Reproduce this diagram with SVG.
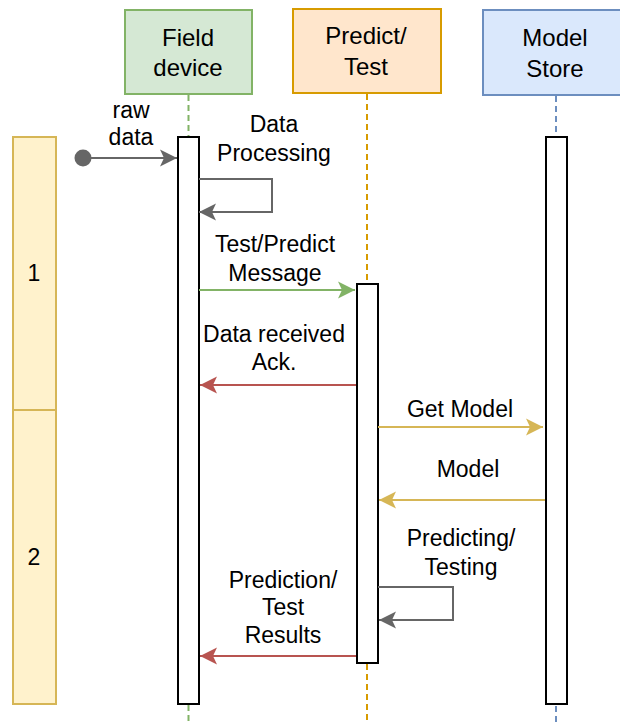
<svg xmlns="http://www.w3.org/2000/svg" width="620" height="724" viewBox="0 0 620 724">
  <style>
    text { font-family: "Liberation Sans", Arial, sans-serif; fill: #000000; text-anchor: middle; }
    .hdr { font-size: 24px; }
    .lbl { font-size: 23px; }
    .life { fill: none; stroke-width: 2; stroke-dasharray: 6 4; }
    .act { fill: #ffffff; stroke: #000000; stroke-width: 2; }
    .phase { fill: #fff2cc; stroke: #d6b656; stroke-width: 2; }
    .msg { fill: none; stroke-width: 2; }
  </style>
  <defs>
    <marker id="arrGray" markerUnits="userSpaceOnUse" markerWidth="20" markerHeight="20" viewBox="-18 -10 20 20" refX="0" refY="0" orient="auto">
      <path d="M0,0 L-17,-8.5 L-13,0 L-17,8.5 Z" fill="#666666"/>
    </marker>
    <marker id="arrGreen" markerUnits="userSpaceOnUse" markerWidth="20" markerHeight="20" viewBox="-18 -10 20 20" refX="0" refY="0" orient="auto">
      <path d="M0,0 L-17,-8.5 L-13,0 L-17,8.5 Z" fill="#82b366"/>
    </marker>
    <marker id="arrRed" markerUnits="userSpaceOnUse" markerWidth="20" markerHeight="20" viewBox="-18 -10 20 20" refX="0" refY="0" orient="auto">
      <path d="M0,0 L-17,-8.5 L-13,0 L-17,8.5 Z" fill="#b85450"/>
    </marker>
    <marker id="arrGold" markerUnits="userSpaceOnUse" markerWidth="20" markerHeight="20" viewBox="-18 -10 20 20" refX="0" refY="0" orient="auto">
      <path d="M0,0 L-17,-8.5 L-13,0 L-17,8.5 Z" fill="#d6b656"/>
    </marker>
  </defs>

  <rect width="620" height="724" fill="#ffffff"/>

  <!-- phase bars -->
  <g id="phase1">
    <rect class="phase" x="13" y="137" width="43" height="273"/>
    <text class="lbl" x="34" y="281">1</text>
  </g>
  <g id="phase2">
    <rect class="phase" x="13" y="410" width="43" height="294"/>
    <text class="lbl" x="34" y="565">2</text>
  </g>

  <!-- participants with lifelines and activations -->
  <g id="field-device">
    <line class="life" x1="188.5" y1="95" x2="188.5" y2="724" stroke="#82b366"/>
    <rect x="125" y="10" width="127" height="84" fill="#d5e8d4" stroke="#82b366" stroke-width="2"/>
    <text class="hdr" x="188" y="46">Field</text>
    <text class="hdr" x="188" y="76">device</text>
    <rect class="act" x="178" y="137" width="21" height="567"/>
  </g>
  <g id="predict-test">
    <line class="life" x1="367" y1="94" x2="367" y2="724" stroke="#d79b00"/>
    <rect x="293" y="9" width="148" height="84" fill="#ffe6cc" stroke="#d79b00" stroke-width="2"/>
    <text class="hdr" x="366" y="44">Predict/</text>
    <text class="hdr" x="366" y="75">Test</text>
    <rect class="act" x="357" y="284" width="21" height="379"/>
  </g>
  <g id="model-store">
    <line class="life" x1="556" y1="96" x2="556" y2="724" stroke="#6c8ebf"/>
    <rect x="483" y="10" width="146" height="85" fill="#dae8fc" stroke="#6c8ebf" stroke-width="2"/>
    <text class="hdr" x="555" y="46">Model</text>
    <text class="hdr" x="555" y="77">Store</text>
    <rect class="act" x="546" y="137" width="21" height="567"/>
  </g>

  <!-- messages -->
  <g id="connectors">
    <circle cx="83" cy="158" r="8.5" fill="#666666"/>
    <line class="msg" x1="90" y1="158" x2="177" y2="158" stroke="#666666" marker-end="url(#arrGray)"/>
    <text class="lbl" x="131" y="118">raw</text>
    <text class="lbl" x="131" y="145">data</text>

    <polyline class="msg" points="199,179 272,179 272,212 199,212" stroke="#666666" marker-end="url(#arrGray)"/>
    <text class="lbl" x="274" y="132">Data</text>
    <text class="lbl" x="274" y="161">Processing</text>

    <line class="msg" x1="199" y1="290" x2="355" y2="290" stroke="#82b366" marker-end="url(#arrGreen)"/>
    <text class="lbl" x="275" y="252">Test/Predict</text>
    <text class="lbl" x="275" y="281">Message</text>

    <line class="msg" x1="356" y1="385" x2="200" y2="385" stroke="#b85450" marker-end="url(#arrRed)"/>
    <text class="lbl" x="274" y="342">Data received</text>
    <text class="lbl" x="274" y="370">Ack.</text>

    <line class="msg" x1="378" y1="427" x2="543" y2="427" stroke="#d6b656" marker-end="url(#arrGold)"/>
    <text class="lbl" x="460" y="417">Get Model</text>

    <line class="msg" x1="545" y1="500" x2="379" y2="500" stroke="#d6b656" marker-end="url(#arrGold)"/>
    <text class="lbl" x="468" y="477">Model</text>

    <polyline class="msg" points="378,587 453,587 453,620 379,620" stroke="#666666" marker-end="url(#arrGray)"/>
    <text class="lbl" x="461" y="546">Predicting/</text>
    <text class="lbl" x="461" y="575">Testing</text>

    <line class="msg" x1="356" y1="656" x2="200" y2="656" stroke="#b85450" marker-end="url(#arrRed)"/>
    <text class="lbl" x="283" y="588">Prediction/</text>
    <text class="lbl" x="283" y="615">Test</text>
    <text class="lbl" x="283" y="643">Results</text>
  </g>
</svg>
